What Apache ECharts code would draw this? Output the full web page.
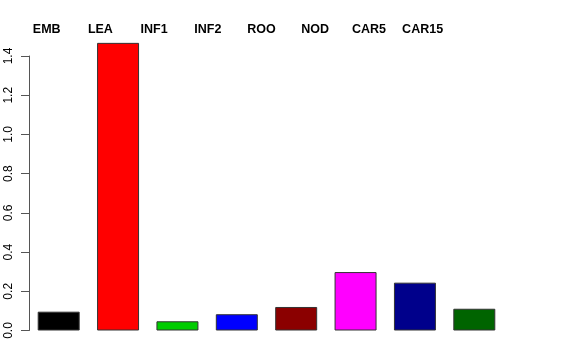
<!DOCTYPE html>
<html>
<head>
<meta charset="utf-8">
<script src="https://cdn.jsdelivr.net/npm/echarts@6/dist/echarts.min.js"></script>
<style>html,body{margin:0;padding:0;background:#fff}#c{width:576px;height:360px}</style>
</head>
<body>
<div id="c"></div>
<script>
var categories = ["EMB", "LEA", "INF1", "INF2", "ROO", "NOD", "CAR5", "CAR15"];
var values = [0.096, 1.467, 0.047, 0.083, 0.12, 0.298, 0.244, 0.111];
var barColors = ["#000000", "#FF0000", "#00CD00", "#0000FF", "#8B0000", "#FF00FF", "#00008B", "#006400"];
var yTicks = [0, 0.2, 0.4, 0.6, 0.8, 1.0, 1.2, 1.4];

var chart = echarts.init(document.getElementById('c'), null, {renderer: 'canvas'});
chart.setOption({
  animation: false,
  backgroundColor: '#ffffff',
  grid: [
    {left: 29, right: 72, top: 56, bottom: 29.5},
    {left: 19.85, width: 429.6, top: 38, height: 10}
  ],
  xAxis: [
    {type: 'category', gridIndex: 0, data: categories,
     axisLine: {show: false}, axisTick: {show: false}, axisLabel: {show: false}},
    {type: 'category', gridIndex: 1, position: 'top', data: categories,
     axisLine: {show: false}, axisTick: {show: false},
     axisLabel: {show: true, margin: 2, fontFamily: 'Liberation Sans, Arial, sans-serif',
                 fontSize: 12.5, fontWeight: 'bold', color: '#000'}}
  ],
  yAxis: [
    {type: 'value', gridIndex: 0, min: 0, max: yTicks[yTicks.length - 1], interval: 0.2,
     splitLine: {show: false},
     axisLine: {show: true, lineStyle: {color: '#555', width: 1}},
     axisTick: {show: true, length: 8, lineStyle: {color: '#555'}},
     axisLabel: {rotate: 90, margin: 14, fontFamily: 'Liberation Sans, Arial, sans-serif',
                 fontSize: 12, color: '#000',
                 formatter: function (v) { return v.toFixed(1); }}},
    {type: 'value', gridIndex: 1, show: false}
  ],
  series: [{
    type: 'bar',
    xAxisIndex: 0, yAxisIndex: 0,
    clip: false,
    barCategoryGap: '29.3%',
    data: values.map(function (v, i) {
      return {value: v, itemStyle: {color: barColors[i], borderColor: '#333', borderWidth: 1}};
    })
  }]
});
</script>
</body>
</html>
